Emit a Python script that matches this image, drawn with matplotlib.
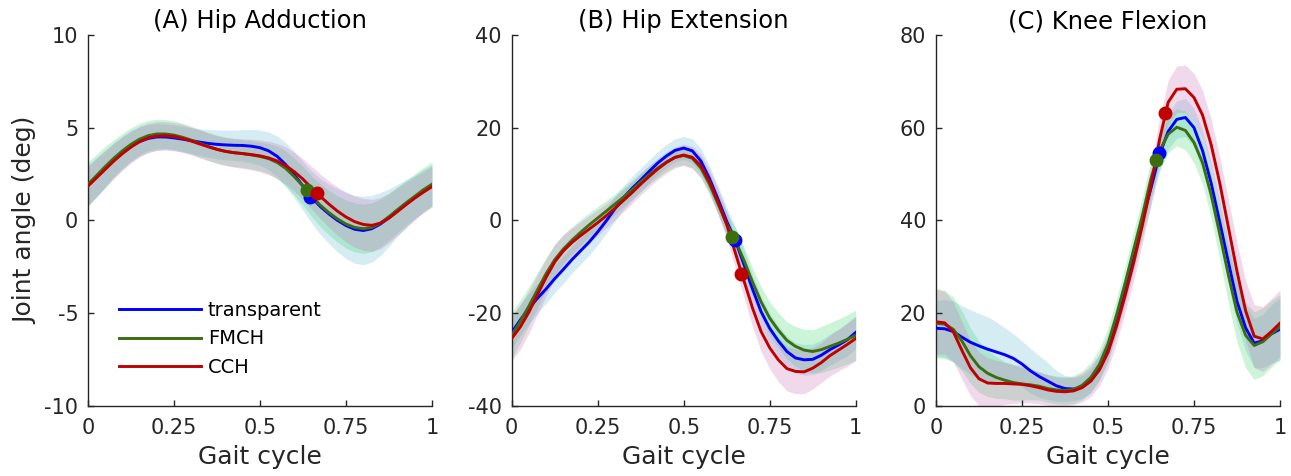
import numpy as np
import matplotlib
matplotlib.use("Agg")
import matplotlib.pyplot as plt

plt.rcParams['font.family'] = ['DejaVu Sans']

# ---------------- data ----------------
gait = [i * 0.025 for i in range(41)]

series_names = ["transparent", "FMCH", "CCH"]
titles = ["(A) Hip Adduction", "(B) Hip Extension", "(C) Knee Flexion"]
ylims = [(-10, 10), (-40, 40), (0, 80)]
yticks = [[-10, -5, 0, 5, 10], [-40, -20, 0, 20, 40], [0, 20, 40, 60, 80]]
ytick_labels = [["-10", "-5", "0", "5", "10"], ["-40", "-20", "0", "20", "40"],
                ["0", "20", "40", "60", "80"]]
xticks = [0, 0.25, 0.5, 0.75, 1]
xtick_labels = ["0", "0.25", "0.5", "0.75", "1"]

# Panel A: hip adduction (deg)
hipadd_transparent = [1.9, 2.35, 2.8, 3.25, 3.65, 4.0, 4.25, 4.42, 4.5, 4.5, 4.45, 4.38, 4.3, 4.22,
                      4.15, 4.1, 4.07, 4.05, 4.04, 4.0, 3.92, 3.75, 3.45, 3.0, 2.45, 1.85, 1.25,
                      0.75, 0.35, 0.0, -0.28, -0.48, -0.55, -0.45, -0.2, 0.15, 0.55, 0.9, 1.25,
                      1.6, 1.9]
hipadd_fmch = [1.95, 2.42, 2.9, 3.35, 3.75, 4.1, 4.38, 4.57, 4.66, 4.66, 4.6, 4.48, 4.33, 4.15,
               3.98, 3.83, 3.72, 3.65, 3.6, 3.53, 3.45, 3.33, 3.12, 2.8, 2.35, 1.85, 1.3, 0.82,
               0.42, 0.08, -0.2, -0.38, -0.45, -0.38, -0.15, 0.2, 0.58, 0.95, 1.3, 1.65, 1.95]
hipadd_cch = [1.85, 2.3, 2.75, 3.2, 3.6, 3.95, 4.25, 4.45, 4.55, 4.57, 4.52, 4.42, 4.28, 4.12,
              3.97, 3.83, 3.72, 3.65, 3.6, 3.55, 3.48, 3.37, 3.2, 2.95, 2.62, 2.22, 1.75, 1.3,
              0.88, 0.5, 0.18, -0.07, -0.22, -0.27, -0.15, 0.12, 0.48, 0.85, 1.2, 1.52, 1.82]
hipadd_transparent_sd = [1.1, 1.05, 1.0, 0.95, 0.9, 0.85, 0.8, 0.75, 0.72, 0.7, 0.7, 0.7, 0.7, 0.72,
                         0.75, 0.78, 0.8, 0.82, 0.85, 0.9, 0.95, 1.02, 1.1, 1.18, 1.25, 1.32, 1.4,
                         1.5, 1.6, 1.7, 1.78, 1.83, 1.85, 1.8, 1.7, 1.55, 1.4, 1.3, 1.2, 1.15, 1.1]
hipadd_fmch_sd = [1.2, 1.15, 1.1, 1.0, 0.95, 0.9, 0.85, 0.82, 0.8, 0.78, 0.77, 0.76, 0.75, 0.75,
                  0.75, 0.75, 0.75, 0.75, 0.75, 0.76, 0.78, 0.82, 0.88, 0.95, 1.0, 1.05, 1.1, 1.15,
                  1.2, 1.25, 1.3, 1.32, 1.33, 1.32, 1.3, 1.28, 1.25, 1.22, 1.2, 1.2, 1.2]
hipadd_cch_sd = [1.05, 1.05, 1.0, 0.95, 0.9, 0.85, 0.82, 0.8, 0.78, 0.76, 0.75, 0.75, 0.75, 0.75,
                 0.75, 0.75, 0.76, 0.78, 0.8, 0.83, 0.86, 0.9, 0.95, 1.0, 1.05, 1.1, 1.15, 1.2,
                 1.25, 1.3, 1.35, 1.38, 1.4, 1.4, 1.38, 1.33, 1.28, 1.22, 1.16, 1.12, 1.1]

# Panel B: hip extension (deg)
hipext_transparent = [-24.2, -21.5, -19.0, -16.8, -14.8, -12.6, -10.6, -8.5, -6.6, -4.7, -2.5,
                      -0.1, 2.5, 4.9, 6.9, 8.7, 10.6, 12.4, 13.9, 15.1, 15.6, 15.0, 12.8, 9.0, 4.5,
                      -0.2, -4.3, -9.5, -14.8, -19.7, -23.3, -26.0, -28.3, -29.7, -30.1, -30.0,
                      -29.1, -27.9, -26.9, -25.8, -24.2]
hipext_fmch = [-24.8, -21.8, -18.5, -15.0, -11.5, -8.5, -6.2, -4.3, -2.6, -1.0, 0.5, 2.0, 3.5,
               5.0, 6.6, 8.3, 9.9, 11.3, 12.6, 13.6, 14.0, 13.4, 11.3, 7.8, 3.5, -0.8, -4.3, -8.6,
               -13.3, -17.6, -21.1, -23.7, -25.9, -27.2, -28.0, -28.3, -27.9, -27.2, -26.5,
               -25.7, -24.8]
hipext_cch = [-25.5, -23.0, -19.8, -16.0, -12.3, -9.0, -6.6, -4.8, -3.3, -1.9, -0.5, 1.0, 2.6,
              4.3, 6.0, 7.8, 9.5, 11.1, 12.5, 13.6, 14.1, 13.6, 11.8, 8.4, 4.0, -0.9, -7.0, -13.0,
              -18.9, -24.0, -27.5, -30.1, -32.0, -32.6, -32.7, -31.9, -30.7, -29.2, -28.0,
              -26.8, -25.5]
hipext_transparent_sd = [3.5, 3.4, 3.3, 3.2, 3.1, 3.0, 3.0, 2.9, 2.9, 2.8, 2.8, 2.7, 2.7, 2.6,
                         2.6, 2.6, 2.5, 2.5, 2.5, 2.5, 2.5, 2.6, 2.7, 2.8, 2.9, 3.0, 3.0, 3.1,
                         3.1, 3.2, 3.2, 3.3, 3.3, 3.3, 3.3, 3.3, 3.3, 3.4, 3.4, 3.5, 3.5]
hipext_fmch_sd = [5.0, 4.6, 4.2, 3.8, 3.5, 3.3, 3.1, 2.9, 2.8, 2.6, 2.5, 2.3, 2.2, 2.1, 2.0, 2.0,
                  2.0, 2.0, 2.0, 2.0, 2.0, 2.1, 2.2, 2.3, 2.3, 2.5, 2.7, 2.9, 3.0, 3.3, 3.5, 3.8,
                  4.0, 4.3, 4.5, 4.7, 5.0, 5.1, 5.2, 5.3, 5.4]
hipext_cch_sd = [4.8, 4.8, 4.6, 4.3, 4.0, 3.8, 3.5, 3.2, 3.0, 2.9, 2.8, 2.6, 2.5, 2.4, 2.4, 2.3,
                 2.3, 2.3, 2.3, 2.3, 2.3, 2.4, 2.5, 2.6, 2.8, 3.0, 3.3, 3.6, 4.0, 4.3, 4.5, 4.7,
                 4.8, 4.8, 4.7, 4.5, 4.3, 4.4, 4.5, 4.7, 4.8]

# Panel C: knee flexion (deg)
knee_transparent = [16.7, 16.6, 16.0, 14.8, 13.7, 12.9, 12.2, 11.6, 11.0, 10.2, 9.0, 7.5, 6.3,
                    5.3, 4.3, 3.7, 3.6, 4.1, 5.4, 8.3, 12.5, 18.5, 25.0, 32.3, 40.0, 47.0, 54.2,
                    59.2, 61.8, 62.2, 60.0, 55.0, 48.0, 39.6, 31.0, 22.5, 16.8, 13.5, 14.0, 15.5,
                    16.5]
knee_fmch = [17.8, 17.6, 16.5, 14.0, 10.8, 8.4, 7.0, 6.1, 5.5, 5.0, 4.7, 4.5, 4.2, 3.7, 3.4, 3.3,
             3.5, 4.4, 6.1, 8.9, 13.3, 19.6, 26.5, 33.8, 41.0, 49.0, 55.0, 58.6, 60.1, 59.4, 56.8,
             52.4, 45.5, 37.0, 28.2, 20.2, 15.2, 13.0, 13.8, 15.5, 17.0]
knee_cch = [18.1, 17.9, 16.0, 12.0, 8.2, 5.8, 4.9, 4.8, 4.8, 4.7, 4.6, 4.3, 3.9, 3.4, 3.1, 3.0,
            3.2, 3.9, 5.3, 7.7, 11.5, 17.2, 23.8, 31.0, 39.0, 47.5, 57.5, 65.5, 68.3, 68.4, 66.5,
            62.7, 56.3, 48.0, 38.5, 29.0, 20.5, 15.0, 14.4, 16.0, 17.8]
knee_transparent_sd = [6.0, 6.3, 6.6, 6.8, 7.0, 7.0, 7.0, 6.5, 5.8, 5.3, 5.0, 4.8, 4.5, 4.0, 3.3,
                       2.8, 2.5, 2.5, 2.6, 2.8, 3.0, 3.1, 3.2, 3.4, 3.5, 3.6, 3.7, 3.8, 4.0, 4.1,
                       4.2, 4.4, 4.5, 4.6, 4.7, 4.8, 5.0, 5.3, 5.8, 6.3, 6.8]
knee_fmch_sd = [7.5, 7.3, 7.0, 6.5, 6.0, 5.5, 5.0, 4.5, 4.0, 3.8, 3.5, 3.2, 3.0, 3.0, 3.0, 3.0,
                3.0, 3.1, 3.2, 3.4, 3.5, 3.6, 3.8, 3.9, 4.0, 4.0, 4.0, 4.0, 4.0, 4.2, 4.4, 4.6,
                5.0, 5.5, 6.0, 6.5, 7.0, 7.3, 7.3, 7.2, 7.0]
knee_cch_sd = [7.0, 6.8, 6.5, 6.2, 6.0, 5.8, 5.5, 5.0, 4.5, 4.2, 4.0, 3.7, 3.5, 3.3, 3.1, 3.0,
               3.0, 3.1, 3.3, 3.4, 3.5, 3.6, 3.7, 3.9, 4.0, 4.2, 4.5, 4.8, 5.0, 5.1, 5.2, 5.3,
               5.5, 5.7, 6.0, 6.2, 6.5, 6.8, 7.0, 7.1, 7.2]

# toe-off markers (gait fraction, angle)
toeoff_x = [[0.645, 0.636, 0.666], [0.65, 0.64, 0.668], [0.649, 0.64, 0.666]]
toeoff_y = [[1.25, 1.64, 1.49], [-4.3, -3.7, -11.6], [54.6, 53.0, 63.1]]

means = [[hipadd_transparent, hipadd_fmch, hipadd_cch],
         [hipext_transparent, hipext_fmch, hipext_cch],
         [knee_transparent, knee_fmch, knee_cch]]
sds = [[hipadd_transparent_sd, hipadd_fmch_sd, hipadd_cch_sd],
       [hipext_transparent_sd, hipext_fmch_sd, hipext_cch_sd],
       [knee_transparent_sd, knee_fmch_sd, knee_cch_sd]]

# ---------------- style ----------------
line_colors = ["#0000ff", "#3c6e10", "#c00000"]
band_colors = [(0.40, 0.733, 0.833), (0.267, 0.85, 0.45), (0.80, 0.45, 0.733)]
band_alpha = 0.27
axis_col = (0.15, 0.15, 0.15)

W, H = 1291, 476
fig = plt.figure(figsize=(W / 100, H / 100), dpi=100)
lefts = [88, 511.7, 936]
ax_w = 344
ax_bottom = H - 405.7
ax_h = 405.7 - 35

for p in range(3):
    ax = fig.add_axes([lefts[p] / W, ax_bottom / H, ax_w / W, ax_h / H])
    g = np.array(gait)
    for s in range(3):
        m = np.array(means[p][s])
        sd = np.array(sds[p][s])
        ax.fill_between(g, m - sd, m + sd, color=band_colors[s], alpha=band_alpha,
                        linewidth=0, zorder=1)
    for s in range(3):
        ax.plot(g, means[p][s], color=line_colors[s], lw=2.1, label=series_names[s], zorder=3)
    for s in range(3):
        ax.plot(toeoff_x[p][s], toeoff_y[p][s], 'o', color=line_colors[s], ms=9,
                zorder=4)
    ax.set_xlim(0, 1)
    ax.set_ylim(*ylims[p])
    ax.set_xticks(xticks)
    ax.set_xticklabels(xtick_labels)
    ax.set_yticks(yticks[p])
    ax.set_yticklabels(ytick_labels[p])
    for sp in ["top", "right"]:
        ax.spines[sp].set_visible(False)
    for sp in ["left", "bottom"]:
        ax.spines[sp].set_color(axis_col)
        ax.spines[sp].set_linewidth(1.0)
    ax.tick_params(direction="in", length=4, width=1, color=axis_col, labelsize=15,
                   labelcolor=axis_col)
    ax.tick_params(axis="x", pad=9)
    ax.tick_params(axis="y", pad=7)
    ax.set_title(titles[p], fontsize=17.5, color="black", pad=5)
    ax.set_xlabel("Gait cycle", fontsize=18, color=axis_col, labelpad=5)
    if p == 0:
        ax.set_ylabel("Joint angle (deg)", fontsize=18, color=axis_col, labelpad=5)
        ax.legend(loc="center left", bbox_to_anchor=(0.09, 0.18), frameon=False, fontsize=14,
                  handlelength=4.2, handletextpad=0.36, labelspacing=0.48, borderaxespad=0,
                  borderpad=0)

fig.savefig("out.png", dpi=100)
